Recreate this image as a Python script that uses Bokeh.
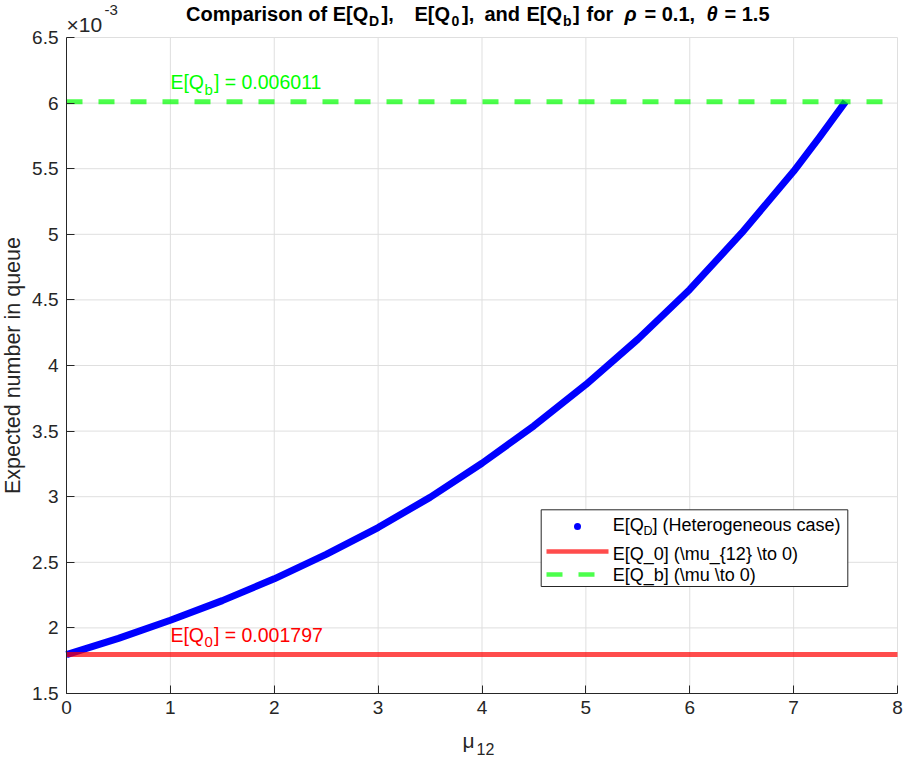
import math
from bokeh.plotting import figure
from bokeh.models import (Label, BoxAnnotation, Arrow, FixedTicker, Range1d)
from bokeh.embed import file_html
from bokeh.resources import INLINE

# ---------------- data ----------------
mu12 = [0, 0.5, 1, 1.5, 2, 2.5, 3, 3.5, 4, 4.5, 5, 5.5, 6, 6.5, 7, 7.25, 7.5]
eq_d = [1.797e-3, 1.920e-3, 2.058e-3, 2.208e-3, 2.374e-3, 2.560e-3, 2.765e-3,
        2.995e-3, 3.255e-3, 3.540e-3, 3.855e-3, 4.200e-3, 4.580e-3, 5.010e-3,
        5.480e-3, 5.740e-3, 6.011e-3]
eq_0 = 0.001797
eq_b = 0.006011
x_ticks = [0, 1, 2, 3, 4, 5, 6, 7, 8]
y_ticks = [0.0015, 0.002, 0.0025, 0.003, 0.0035, 0.004, 0.0045, 0.005,
           0.0055, 0.006, 0.0065]
y_tick_labels = ["1.5", "2", "2.5", "3", "3.5", "4", "4.5", "5", "5.5", "6", "6.5"]
xlim = (x_ticks[0], x_ticks[-1])
ylim = (y_ticks[0], y_ticks[-1])
label_x = 1.0

FONT = "Liberation Sans"
INK = "#262626"
W, H = 905, 761
FL, FT, FR, FB = 66, 37, 897, 693   # axes box edges on the page (px)
FIX = 6.5                            # baseline correction for labels (px)

# the plotting frame spans the whole canvas; the axes box sits inside it
kx = (FR - FL) / (xlim[1] - xlim[0])
ky = (FB - FT) / (ylim[1] - ylim[0])
x_range = Range1d(xlim[0] - FL / kx, xlim[1] + (W - FR) / kx)
y_range = Range1d(ylim[0] - (H - FB) / ky, ylim[1] + FT / ky)

p = figure(width=W, height=H, x_range=x_range, y_range=y_range,
           output_backend="svg", toolbar_location=None,
           min_border_left=0, min_border_right=0, min_border_top=0, min_border_bottom=0)
p.outline_line_color = None
p.background_fill_color = "white"
p.border_fill_color = "white"
p.xgrid.visible = False
p.ygrid.visible = False

# grid lines limited to the axes box
p.segment(x0=x_ticks, y0=[ylim[0]] * len(x_ticks), x1=x_ticks, y1=[ylim[1]] * len(x_ticks),
          line_color="#DFDFDF", line_width=1)
p.segment(x0=[xlim[0]] * len(y_ticks), y0=y_ticks, x1=[xlim[1]] * len(y_ticks), y1=y_ticks,
          line_color="#DFDFDF", line_width=1)

# axes pinned to the box edges
p.xaxis.fixed_location = ylim[0]
p.yaxis.fixed_location = xlim[0]
p.xaxis.bounds = xlim
p.yaxis.bounds = ylim
p.xaxis.ticker = FixedTicker(ticks=x_ticks)
p.yaxis.ticker = FixedTicker(ticks=y_ticks)
p.yaxis.major_label_overrides = {t: s for t, s in zip(y_ticks, y_tick_labels)}
for ax in (p.xaxis, p.yaxis):
    ax.axis_line_color = INK
    ax.axis_line_width = 1
    ax.major_tick_line_color = INK
    ax.major_tick_in = 8
    ax.major_tick_out = 0
    ax.minor_tick_line_color = None
    ax.major_label_text_font = FONT
    ax.major_label_text_font_size = "19px"
    ax.major_label_text_color = INK
p.xaxis.major_label_standoff = 7
p.yaxis.major_label_standoff = 8

# curve
p.line(mu12, eq_d, line_width=7, line_color="#0000FF", line_cap="butt", line_join="round")

# reference lines (drawn over the curve, semi-transparent)
p.line(list(xlim), [eq_0, eq_0], line_color="#FF0000", line_alpha=0.7, line_width=5)
p.line(list(xlim), [eq_b, eq_b], line_color="#00FF00", line_alpha=0.7, line_width=5,
       line_dash="16 16")


def slab(text, px, py, size, color=INK, style="normal", align="left", angle=0.0):
    """label positioned in page px (frame covers the canvas); py = baseline"""
    if angle:
        px, py = px - FIX, py
    else:
        py = py - FIX
    return Label(x=px, y=H - py, x_units="screen", y_units="screen", text=text,
                 text_font=FONT, text_font_size=f"{size}px", text_color=color,
                 text_font_style=style, text_align=align, text_baseline="alphabetic",
                 angle=angle)


def dlab(text, yval, xoff, yoff, size, color):
    return Label(x=label_x, y=yval, x_offset=xoff, y_offset=yoff + FIX, text=text,
                 text_font=FONT, text_font_size=f"{size}px", text_color=color,
                 text_align="left", text_baseline="alphabetic")


# in-plot value labels
for val, sub, txt, col in [(eq_b, "b", "] = %.6f" % eq_b, "#00FF00"),
                           (eq_0, "0", "] = %.6f" % eq_0, "#FF0000")]:
    p.add_layout(dlab("E[Q", val, 0, 13.5, 19.5, col))
    p.add_layout(dlab(sub, val, 34, 6, 15, col))
    p.add_layout(dlab(txt, val, 43.5, 13.5, 19.5, col))

# title pieces
TB, TS = 20, 27
TF, SF = 20, 14
for txt, px, base, size, style in [
        ("Comparison of E[Q", 185.5, TB, TF, "bold"),
        ("D", 368.5, TS, SF, "bold"),
        ("],", 381, TB, TF, "bold"),
        ("E[Q", 414, TB, TF, "bold"),
        ("0", 451, TS, SF, "bold"),
        ("],", 461.5, TB, TF, "bold"),
        ("and", 484, TB, TF, "bold"),
        ("E[Q", 526, TB, TF, "bold"),
        ("b", 562.5, TS, SF, "bold"),
        ("]", 572.5, TB, TF, "bold"),
        ("for", 586, TB, TF, "bold"),
        ("\u03c1", 624, TB, TF, "bold italic"),
        ("= 0.1,", 644, TB, TF, "bold"),
        ("\u03b8", 706, TB, TF, "bold italic"),
        ("= 1.5", 724, TB, TF, "bold")]:
    p.add_layout(slab(txt, px, base, size, color="#000000", style=style))

# exponent marker
p.add_layout(slab("\u00d710", 66, 30, 21))
p.add_layout(slab("-3", 104, 16, 15))

# axis labels
p.add_layout(slab("Expected number in queue", 18.5, 365, 21.5, align="center", angle=math.pi / 2))
p.add_layout(slab("\u03bc", 462, 746, 21))
p.add_layout(slab("12", 476, 755, 16))

# legend (manual)
p.add_layout(BoxAnnotation(left=540.7, right=847.3, top=H - 509.3, bottom=H - 586,
                           left_units="screen", right_units="screen",
                           top_units="screen", bottom_units="screen",
                           fill_color="white", fill_alpha=1.0, line_color=INK, line_width=1,
                           line_alpha=1.0))
p.add_layout(BoxAnnotation(left=573.5, right=580.5, top=H - 522.5, bottom=H - 529.5,
                           left_units="screen", right_units="screen",
                           top_units="screen", bottom_units="screen",
                           fill_color="#0000FF", fill_alpha=1.0, line_color=None,
                           border_radius=4))
p.add_layout(Arrow(end=None, x_start=546, y_start=H - 551, x_end=608, y_end=H - 551,
                   start_units="screen", end_units="screen", line_color="#FF0000",
                   line_alpha=0.7, line_width=4.5))
p.add_layout(Arrow(end=None, x_start=546, y_start=H - 574, x_end=608, y_end=H - 574,
                   start_units="screen", end_units="screen", line_color="#00FF00",
                   line_alpha=0.7, line_width=4.5, line_dash="16 16"))
p.add_layout(slab("E[Q", 612.3, 530.5, 18, color="#000000"))
p.add_layout(slab("D", 643, 536.5, 12.5, color="#000000"))
p.add_layout(slab("] (Heterogeneous case)", 652, 530.5, 18, color="#000000"))
p.add_layout(slab("E[Q_0] (\\mu_{12} \\to 0)", 612.3, 559.5, 18, color="#000000"))
p.add_layout(slab("E[Q_b] (\\mu \\to 0)", 612.3, 581.3, 18, color="#000000"))

open("out.html", "w").write(file_html(p, INLINE))
